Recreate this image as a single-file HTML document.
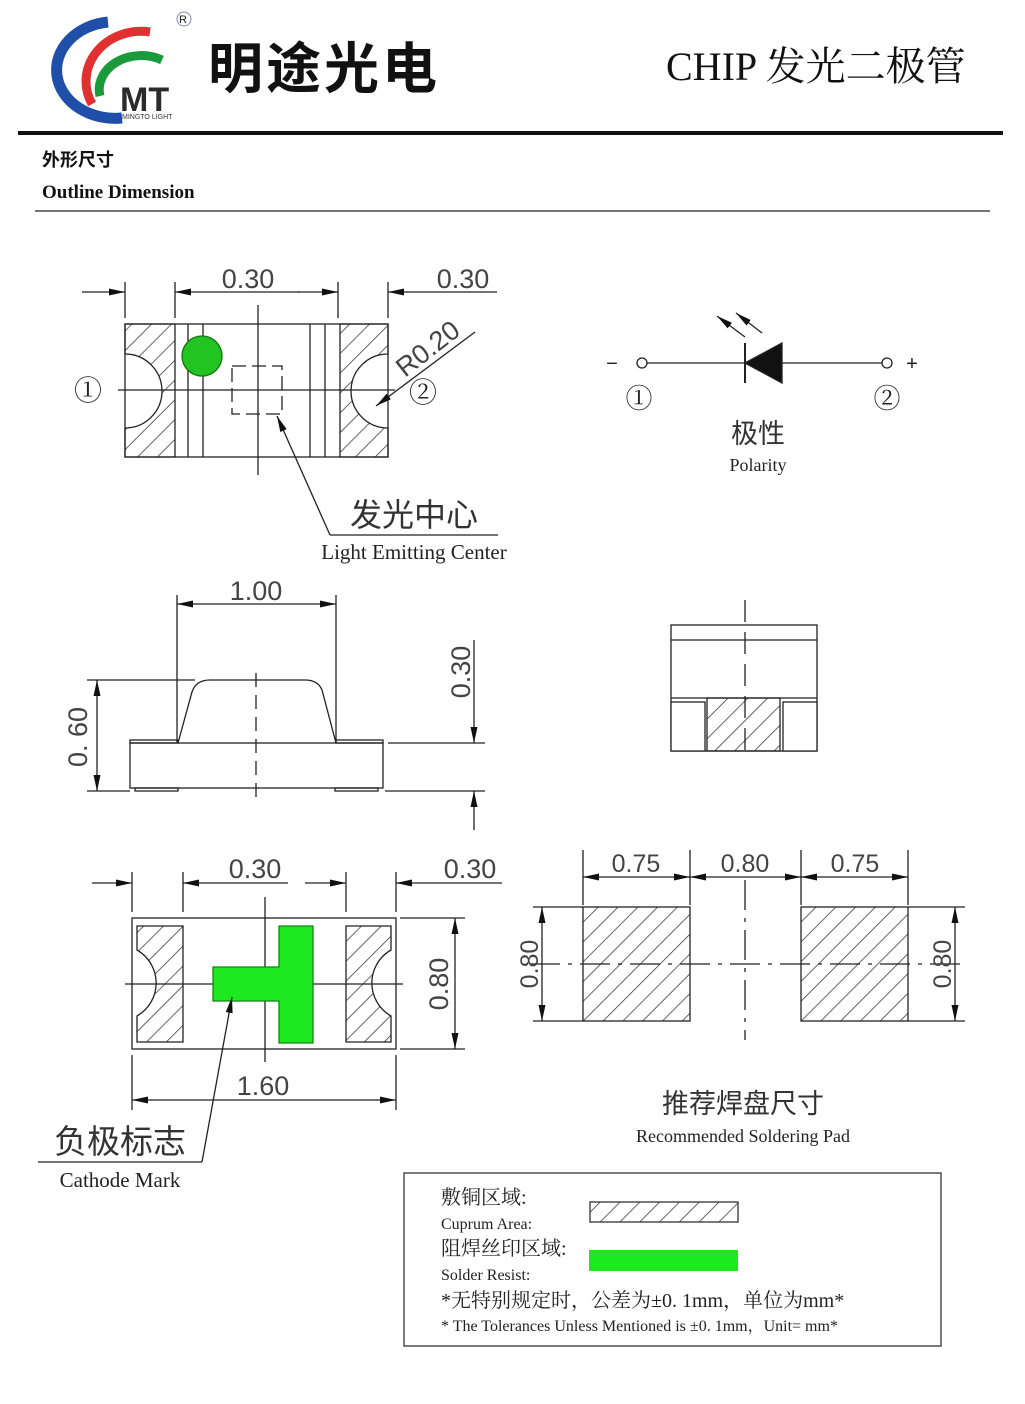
<!DOCTYPE html>
<html><head><meta charset="utf-8"><style>
html,body{margin:0;padding:0;background:#fff;}
svg{display:block;}
text{font-family:"Liberation Sans","Noto Sans CJK SC",sans-serif;fill:#222;}
.s{font-family:"Liberation Serif","Noto Serif CJK SC",serif;}
.d{font-size:27px;fill:#444;}
</style></head><body>
<svg width="1025" height="1404" viewBox="0 0 1025 1404" xmlns="http://www.w3.org/2000/svg">
<defs>
<pattern id="h" width="14" height="14" patternUnits="userSpaceOnUse" patternTransform="rotate(45)">
<line x1="0" y1="0" x2="0" y2="14" stroke="#333" stroke-width="1.5"/></pattern>
<marker id="a" viewBox="0 0 16 7" refX="16" refY="3.5" markerWidth="16" markerHeight="7" markerUnits="userSpaceOnUse" orient="auto" preserveAspectRatio="none"><path d="M0,0 L16,3.5 L0,7 z" fill="#111"/></marker>
</defs>
<g>
<path d="M108 22 A58 48 0 0 0 122 118" fill="none" stroke="#1f4fa8" stroke-width="11"/>
<path d="M150 32 A55 50 0 0 0 92 104" fill="none" stroke="#e03030" stroke-width="9"/>
<path d="M162 60 A42 34 0 0 0 100 96" fill="none" stroke="#1a9a3a" stroke-width="9"/>
<text x="120" y="111" style="font-size:34px;font-weight:bold;fill:#2a2a2a">MT</text>
<text x="122" y="119" style="font-size:7px;fill:#333">MINGTO LIGHT</text>
<circle cx="184" cy="19" r="7" fill="none" stroke="#88a" stroke-width="1"/>
<text x="179" y="23" style="font-size:11px">R</text>
<text x="208" y="88" style="font-size:55px;font-weight:bold;fill:#111;letter-spacing:3px">明途光电</text>
<text x="666" y="80" class="s" style="font-size:40px;fill:#111">CHIP 发光二极管</text>
<rect x="18" y="131" width="985" height="4" fill="#111"/>
<text x="42" y="166" style="font-size:18px;font-weight:bold;fill:#111">外形尺寸</text>
<text x="42" y="198" class="s" style="font-size:19px;font-weight:bold;fill:#111">Outline Dimension</text>
<line x1="35" y1="211" x2="990" y2="211" stroke="#222" stroke-width="1.2"/>
</g>

<g stroke="#222" stroke-width="1.3" fill="none">
<path d="M125 324 H175 V457 H125 V428 A36 36 0 0 0 125 354 Z" fill="url(#h)"/>
<path d="M340 324 H388 V354 A36 36 0 0 0 388 428 V457 H340 Z" fill="url(#h)"/>
<rect x="125" y="324" width="263" height="133"/>
<line x1="188" y1="324" x2="188" y2="457"/><line x1="203" y1="324" x2="203" y2="457"/>
<line x1="310" y1="324" x2="310" y2="457"/><line x1="325" y1="324" x2="325" y2="457"/>
<circle cx="202" cy="356" r="20" fill="#22c422" stroke="#117711"/>
<line x1="258" y1="305" x2="258" y2="475"/>
<line x1="118" y1="390" x2="395" y2="390"/>
<rect x="232" y="366" width="50" height="48" stroke-dasharray="14 6"/>
<line x1="125" y1="282" x2="125" y2="318"/><line x1="175" y1="282" x2="175" y2="318"/>
<line x1="338" y1="282" x2="338" y2="318"/><line x1="388" y1="282" x2="388" y2="318"/>
<line x1="82" y1="292" x2="125" y2="292" marker-end="url(#a)"/>
<line x1="300" y1="292" x2="175" y2="292" marker-end="url(#a)"/>
<line x1="298" y1="292" x2="338" y2="292" marker-end="url(#a)"/>
<line x1="497" y1="292" x2="388" y2="292" marker-end="url(#a)"/>
<line x1="475" y1="332" x2="376" y2="406" marker-end="url(#a)"/>
<line x1="330" y1="535" x2="277" y2="416" marker-end="url(#a)"/>
<line x1="330" y1="535" x2="498" y2="535"/>
</g>
<text x="248" y="288" text-anchor="middle" class="d">0.30</text>
<text x="463" y="288" text-anchor="middle" class="d">0.30</text>
<text x="0" y="0" class="d" transform="translate(405,378) rotate(-38)">R0.20</text>
<text x="88" y="400" text-anchor="middle" class="s" style="font-size:28px">①</text>
<text x="423" y="402" text-anchor="middle" class="s" style="font-size:28px">②</text>
<text x="414" y="526" text-anchor="middle" style="font-size:32px;fill:#333">发光中心</text>
<text x="414" y="559" text-anchor="middle" class="s" style="font-size:21px">Light Emitting Center</text>

<g stroke="#222" stroke-width="1.3" fill="none">
<line x1="647" y1="363" x2="745" y2="363"/><line x1="782" y1="363" x2="882" y2="363"/>
<circle cx="642" cy="363" r="5"/><circle cx="887" cy="363" r="5"/>
<path d="M745 363 L782 343 L782 383 Z" fill="#111"/>
<line x1="745" y1="343" x2="745" y2="383" stroke-width="2"/>
<line x1="745" y1="337" x2="717" y2="316" marker-end="url(#a)"/>
<line x1="762" y1="333" x2="736" y2="313" marker-end="url(#a)"/>
</g>
<text x="612" y="370" text-anchor="middle" style="font-size:20px">−</text>
<text x="912" y="370" text-anchor="middle" style="font-size:20px">+</text>
<text x="639" y="408" text-anchor="middle" class="s" style="font-size:27px">①</text>
<text x="887" y="408" text-anchor="middle" class="s" style="font-size:27px">②</text>
<text x="758" y="443" text-anchor="middle" style="font-size:27px;fill:#333">极性</text>
<text x="758" y="471" text-anchor="middle" class="s" style="font-size:18px">Polarity</text>

<g stroke="#222" stroke-width="1.3" fill="none">
<rect x="130" y="743" width="253" height="45"/>
<path d="M178 743 L192 692 Q196 680 210 680 H305 Q318 680 322 690 L336 743"/>
<rect x="130" y="740" width="48" height="3"/><rect x="336" y="740" width="47" height="3"/>
<rect x="135" y="788" width="43" height="3"/><rect x="335" y="788" width="43" height="3"/>
<line x1="87" y1="680" x2="195" y2="680"/>
<line x1="87" y1="791" x2="130" y2="791"/>
<line x1="177" y1="595" x2="177" y2="743"/><line x1="336" y1="595" x2="336" y2="743"/>
<line x1="256" y1="604" x2="177" y2="604" marker-end="url(#a)"/>
<line x1="256" y1="604" x2="336" y2="604" marker-end="url(#a)"/>
<line x1="97" y1="735" x2="97" y2="680" marker-end="url(#a)"/>
<line x1="97" y1="735" x2="97" y2="791" marker-end="url(#a)"/>
<line x1="388" y1="743" x2="485" y2="743"/><line x1="385" y1="791" x2="485" y2="791"/>
<line x1="474" y1="640" x2="474" y2="743" marker-end="url(#a)"/>
<line x1="474" y1="830" x2="474" y2="791" marker-end="url(#a)"/>
<line x1="256" y1="673" x2="256" y2="805" stroke-dasharray="14 8"/>
</g>
<text x="256" y="600" text-anchor="middle" class="d">1.00</text>
<text class="d" transform="translate(87,737) rotate(-90)" text-anchor="middle">0. 60</text>
<text class="d" transform="translate(470,672) rotate(-90)" text-anchor="middle">0.30</text>

<g stroke="#222" stroke-width="1.3" fill="none">
<rect x="671" y="625" width="146" height="126"/>
<line x1="671" y1="640" x2="817" y2="640"/>
<line x1="671" y1="698" x2="817" y2="698"/>
<rect x="707" y="698" width="73" height="53" fill="url(#h)"/>
<rect x="671" y="702" width="34" height="49" fill="#fff"/>
<rect x="783" y="702" width="34" height="49" fill="#fff"/>
<line x1="745" y1="600" x2="745" y2="760" stroke-dasharray="22 10"/>
</g>

<g stroke="#222" stroke-width="1.3" fill="none">
<rect x="132" y="918" width="264" height="131"/>
<path d="M137 926 H183 V1042 H137 V1016 A38 38 0 0 0 137 950 Z" fill="url(#h)"/>
<path d="M346 926 H391 V950 A38 38 0 0 0 391 1016 V1042 H346 Z" fill="url(#h)"/>
<line x1="125" y1="984" x2="403" y2="984"/>
<line x1="265" y1="897" x2="265" y2="1062"/>
<path d="M213 967 H279 V926 H313 V1043 H279 V1001 H213 Z" fill="#1ee81e" stroke="#118811"/>
<line x1="132" y1="872" x2="132" y2="912"/><line x1="183" y1="872" x2="183" y2="912"/>
<line x1="346" y1="872" x2="346" y2="912"/><line x1="396" y1="872" x2="396" y2="912"/>
<line x1="92" y1="883" x2="132" y2="883" marker-end="url(#a)"/>
<line x1="288" y1="883" x2="183" y2="883" marker-end="url(#a)"/>
<line x1="305" y1="883" x2="346" y2="883" marker-end="url(#a)"/>
<line x1="502" y1="883" x2="396" y2="883" marker-end="url(#a)"/>
<line x1="400" y1="918" x2="465" y2="918"/><line x1="400" y1="1049" x2="465" y2="1049"/>
<line x1="455" y1="984" x2="455" y2="918" marker-end="url(#a)"/>
<line x1="455" y1="984" x2="455" y2="1049" marker-end="url(#a)"/>
<line x1="132" y1="1055" x2="132" y2="1110"/><line x1="396" y1="1055" x2="396" y2="1110"/>
<line x1="264" y1="1100" x2="132" y2="1100" marker-end="url(#a)"/>
<line x1="264" y1="1100" x2="396" y2="1100" marker-end="url(#a)"/>
<line x1="202" y1="1162" x2="232" y2="997" marker-end="url(#a)"/>
<line x1="202" y1="1162" x2="38" y2="1162"/>
</g>
<text x="255" y="878" text-anchor="middle" class="d">0.30</text>
<text x="470" y="878" text-anchor="middle" class="d">0.30</text>
<text class="d" transform="translate(448,984) rotate(-90)" text-anchor="middle">0.80</text>
<text x="263" y="1095" text-anchor="middle" class="d">1.60</text>
<text x="120" y="1153" text-anchor="middle" style="font-size:33px;fill:#333">负极标志</text>
<text x="120" y="1187" text-anchor="middle" class="s" style="font-size:21px">Cathode Mark</text>

<g stroke="#222" stroke-width="1.3" fill="none">
<rect x="583" y="907" width="107" height="114" fill="url(#h)"/>
<rect x="801" y="907" width="107" height="114" fill="url(#h)"/>
<line x1="530" y1="964" x2="965" y2="964" stroke-dasharray="30 8 4 8"/>
<line x1="745" y1="880" x2="745" y2="1040" stroke-dasharray="30 8 4 8"/>
<line x1="583" y1="850" x2="583" y2="905"/><line x1="690" y1="850" x2="690" y2="905"/>
<line x1="801" y1="850" x2="801" y2="905"/><line x1="908" y1="850" x2="908" y2="905"/>
<line x1="636" y1="877" x2="583" y2="877" marker-end="url(#a)"/>
<line x1="636" y1="877" x2="690" y2="877" marker-end="url(#a)"/>
<line x1="745" y1="877" x2="690" y2="877" marker-end="url(#a)"/>
<line x1="745" y1="877" x2="801" y2="877" marker-end="url(#a)"/>
<line x1="855" y1="877" x2="801" y2="877" marker-end="url(#a)"/>
<line x1="855" y1="877" x2="908" y2="877" marker-end="url(#a)"/>
<line x1="533" y1="907" x2="583" y2="907"/><line x1="533" y1="1021" x2="583" y2="1021"/>
<line x1="908" y1="907" x2="965" y2="907"/><line x1="908" y1="1021" x2="965" y2="1021"/>
<line x1="542" y1="964" x2="542" y2="907" marker-end="url(#a)"/>
<line x1="542" y1="964" x2="542" y2="1021" marker-end="url(#a)"/>
<line x1="955" y1="964" x2="955" y2="907" marker-end="url(#a)"/>
<line x1="955" y1="964" x2="955" y2="1021" marker-end="url(#a)"/>
</g>
<text x="636" y="872" text-anchor="middle" class="d" style="font-size:25px">0.75</text>
<text x="745" y="872" text-anchor="middle" class="d" style="font-size:25px">0.80</text>
<text x="855" y="872" text-anchor="middle" class="d" style="font-size:25px">0.75</text>
<text class="d" style="font-size:25px" transform="translate(538,964) rotate(-90)" text-anchor="middle">0.80</text>
<text class="d" style="font-size:25px" transform="translate(951,964) rotate(-90)" text-anchor="middle">0.80</text>
<text x="743" y="1113" text-anchor="middle" style="font-size:27px;fill:#333">推荐焊盘尺寸</text>
<text x="743" y="1142" text-anchor="middle" class="s" style="font-size:18px">Recommended Soldering Pad</text>

<rect x="404" y="1173" width="537" height="173" fill="none" stroke="#333" stroke-width="1.3"/>
<text x="441" y="1204" class="s" style="font-size:20px">敷铜区域:</text>
<text x="441" y="1229" class="s" style="font-size:16px">Cuprum Area:</text>
<rect x="590" y="1202" width="148" height="20" fill="url(#h)" stroke="#333" stroke-width="1.3"/>
<text x="441" y="1255" class="s" style="font-size:20px">阻焊丝印区域:</text>
<text x="441" y="1280" class="s" style="font-size:16px">Solder Resist:</text>
<rect x="589" y="1250" width="149" height="21" fill="#1ee81e"/>
<text x="441" y="1307" class="s" style="font-size:20px">*无特别规定时，公差为±0. 1mm，单位为mm*</text>
<text x="441" y="1331" class="s" style="font-size:16px">* The Tolerances Unless Mentioned is ±0. 1mm，Unit= mm*</text>
</svg>
</body></html>
